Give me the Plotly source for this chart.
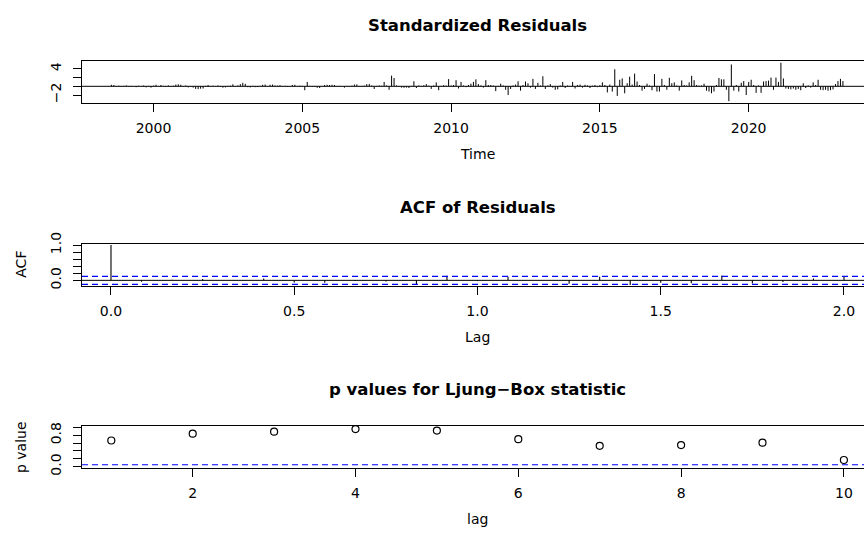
import plotly.graph_objects as go

W, H = 864, 537

# ---------------- data ----------------
resid_start_year = 1998
resid_start_month = 8          # August 1998
resid_frequency = 12

std_resid = [
    0.35, 0.30, -0.10, 0.15, -0.12, 0.10, 0.20, -0.15, 0.10, 0.05, -0.20, 0.12,
    -0.10, 0.18, -0.25, 0.10, -0.30, 0.15, 0.35, -0.05, 0.30, 0.10, -0.15, 0.20,
    -0.10, 0.15, 0.40, 0.45, 0.35, -0.10, 0.20, -0.25, -0.15, -0.30, -0.60, -0.65,
    -0.55, -0.50, 0.10, 0.30, -0.10, 0.15, -0.05, 0.20, -0.15, -0.30, -0.25, 0.10,
    0.15, 0.45, -0.10, 0.20, 0.50, 0.80, 0.55, -0.20, -0.25, 0.10, -0.20, -0.15,
    0.10, 0.35, 0.40, -0.10, 0.35, 0.40, 0.20, 0.15, 0.25, -0.10, 0.10, -0.15,
    0.05, 0.30, 0.35, -0.10, 0.15, 0.10, -0.90, 1.00, 0.10, -0.15, 0.10, -0.35,
    -0.40, 0.05, 0.30, 0.35, 0.30, 0.35, 0.30, -0.10, 0.10, 0.05, -0.30, 0.10,
    -0.10, 0.15, 0.40, 0.45, -0.10, 0.10, 0.15, 0.50, 0.55, 0.20, -0.60, 0.10,
    0.20, 0.15, 1.00, 0.20, -0.80, 2.45, 1.90, 0.20, -0.10, -0.30, -0.35, -0.30,
    -0.40, 0.10, 1.15, -0.40, 0.20, 0.10, 0.25, 0.50, 0.15, -0.60, 0.20, 0.90,
    -0.90, 0.10, 0.25, 0.15, 1.65, 0.20, 0.30, 1.40, -0.50, 1.00, 0.20, -0.20,
    0.30, 0.60, 1.00, 1.60, 0.50, 0.20, -0.30, 1.40, 0.30, 0.30, 0.20, -1.10,
    0.10, 0.60, 0.20, -0.80, -2.00, -0.60, 0.20, 0.40, 1.15, -1.00, 0.30, 1.10,
    0.70, -0.30, 1.70, -0.60, 0.80, 0.20, 2.30, -0.60, 0.20, 0.50, -0.30, -0.80,
    -0.70, 0.20, 1.00, -0.40, 0.20, 0.10, 1.00, -0.50, 0.30, 0.40, -0.30, 0.35,
    0.20, -0.40, 0.15, 0.30, -0.20, 0.25, 0.90, 0.30, -1.40, 0.40, -1.20, 3.90,
    -2.20, 1.50, 1.80, -1.60, 0.70, 2.20, 0.40, 2.90, 1.10, 0.30, -1.00, -0.60,
    0.60, 0.20, -0.90, 2.80, -1.20, -1.20, 1.70, 0.30, -0.80, 1.95, 0.70, 0.90,
    0.20, -1.00, 1.35, 0.30, 0.20, 0.90, 2.40, 1.40, 0.30, 0.15, 0.20, 0.60,
    -1.00, -1.20, -1.60, -1.20, 0.30, 1.90, 1.60, 1.60, -0.80, -3.40, 5.00, -1.00,
    0.30, -1.20, 0.80, 1.20, -2.00, 1.00, 1.50, 0.30, -1.50, 0.20, -1.50, 1.10,
    1.20, 1.30, 2.00, -0.80, 2.00, 1.00, 5.40, 1.80, -0.50, -0.60, -0.70, -0.50,
    -0.80, -0.60, -0.90, 0.70, -0.40, 0.20, -0.30, 0.90, 0.30, 1.50, -0.80, -0.90,
    -0.80, -1.00, -0.90, -0.70, 0.50, 1.20, 1.70, 1.20,
]

acf_lag_months = list(range(0, 25))
acf_values = [1.0, -0.04, 0.02, 0.035, 0.01, 0.055, -0.06, -0.07, -0.02, -0.035,
              -0.12, 0.13, -0.02, 0.10, 0.01, -0.10, 0.10, -0.13, -0.07, -0.08,
              0.14, -0.09, -0.05, 0.05, 0.12]
acf_ci = 0.114

lb_lags = [1, 2, 3, 4, 5, 6, 7, 8, 9, 10]
lb_pvalues = [0.666, 0.84, 0.89, 0.957, 0.92, 0.70, 0.53, 0.55, 0.61, 0.17]
lb_alpha = 0.05

resid_xticks = [2000, 2005, 2010, 2015, 2020]
resid_xticktext = ["2000", "2005", "2010", "2015", "2020"]
resid_yticks = [-2, 0, 2, 4]
resid_yticktext = ["\u22122", "", "", "4"]
acf_xticks = [0, 0.5, 1.0, 1.5, 2.0]
acf_xticktext = ["0.0", "0.5", "1.0", "1.5", "2.0"]
acf_yticks = [0, 0.2, 0.4, 0.6, 0.8, 1.0]
acf_yticktext = ["0.0", "", "", "", "", "1.0"]
lb_xticks = [2, 4, 6, 8, 10]
lb_xticktext = ["2", "4", "6", "8", "10"]
lb_yticks = [0, 0.2, 0.4, 0.6, 0.8, 1.0]
lb_yticktext = ["0.0", "", "", "", "0.8", ""]

titles = ["Standardized Residuals", "ACF of Residuals", "p values for Ljung\u2212Box statistic"]
xlabels = ["Time", "Lag", "lag"]
ylabels = ["", "ACF", "p value"]

# ---------------- derived x values ----------------
resid_time = [resid_start_year + (resid_start_month - 1 + i) / resid_frequency
              for i in range(len(std_resid))]
acf_lags = [m / 12 for m in acf_lag_months]


def spikes(xs, ys):
    sx, sy = [], []
    for x, y in zip(xs, ys):
        sx += [x, x, None]
        sy += [0, y, None]
    return sx, sy


FONT = "DejaVu Sans, Liberation Sans, Arial, sans-serif"
TICK_SIZE = 14
TITLE_SIZE = 16.5
LAB_SIZE = 14

# layout geometry (pixels)
LEFT = 82
RIGHT_R = 873          # right edge of the (cropped) R plot box
box_tops = [51, 240, 429]
box_bots = [94, 284, 473]


def ydom(r):
    return [1 - box_bots[r] / H, 1 - box_tops[r] / H]


fig = go.Figure()

rx, ry = spikes(resid_time, std_resid)
fig.add_trace(go.Scatter(x=rx, y=ry, mode="lines", line=dict(color="black", width=1),
                         xaxis="x", yaxis="y", hoverinfo="skip"))
ax, ay = spikes(acf_lags, acf_values)
fig.add_trace(go.Scatter(x=ax, y=ay, mode="lines", line=dict(color="black", width=1.1),
                         xaxis="x2", yaxis="y2", hoverinfo="skip"))
fig.add_trace(go.Scatter(x=lb_lags, y=lb_pvalues, mode="markers",
                         marker=dict(symbol="circle-open", size=7, color="black",
                                     line=dict(width=1.2, color="black")),
                         xaxis="x3", yaxis="y3"))

DASH = dict(color="blue", width=1.2, dash="6px,4px")
shapes = [
    dict(type="line", xref="x domain", x0=0, x1=1, yref="y", y0=0, y1=0,
         line=dict(color="black", width=1)),
    dict(type="line", xref="x2 domain", x0=0, x1=1, yref="y2", y0=0, y1=0,
         line=dict(color="black", width=1)),
    dict(type="line", xref="x2 domain", x0=0, x1=1, yref="y2", y0=acf_ci, y1=acf_ci, line=DASH),
    dict(type="line", xref="x2 domain", x0=0, x1=1, yref="y2", y0=-acf_ci, y1=-acf_ci, line=DASH),
    dict(type="line", xref="x3 domain", x0=0, x1=1, yref="y3", y0=lb_alpha, y1=lb_alpha, line=DASH),
]

tickfont = dict(family=FONT, size=TICK_SIZE, color="black")
common_x = dict(showline=True, mirror=True, linecolor="black", linewidth=1.3,
                ticks="outside", ticklen=8, tickwidth=1.2, tickcolor="black",
                showgrid=False, zeroline=False, tickfont=tickfont,
                domain=[LEFT / W, 1.0], tickmode="array", ticklabelstandoff=4)
common_y = dict(showline=True, mirror=False, linecolor="black", linewidth=1.3,
                ticks="outside", ticklen=8, tickwidth=1.2, tickcolor="black",
                showgrid=False, zeroline=False, tickfont=tickfont,
                tickangle=-90, tickmode="array", ticklabelstandoff=6)

annotations = []
cx = (LEFT + RIGHT_R) / 2 / W
for r in range(3):
    annotations.append(dict(text="<b>%s</b>" % titles[r], x=cx, y=1 - (box_tops[r] - 37.5) / H,
                            xref="paper", yref="paper", showarrow=False,
                            xanchor="center", yanchor="middle",
                            font=dict(family=FONT, size=TITLE_SIZE, color="black")))
    annotations.append(dict(text=xlabels[r], x=cx, y=1 - (box_bots[r] + 53) / H,
                            xref="paper", yref="paper", showarrow=False,
                            xanchor="center", yanchor="middle",
                            font=dict(family=FONT, size=LAB_SIZE, color="black")))
    if ylabels[r]:
        annotations.append(dict(text=ylabels[r], x=21 / W,
                                y=1 - (box_tops[r] + box_bots[r]) / 2 / H,
                                xref="paper", yref="paper", showarrow=False, textangle=-90,
                                xanchor="center", yanchor="middle",
                                font=dict(family=FONT, size=LAB_SIZE, color="black")))

fig.update_layout(
    width=W, height=H, margin=dict(l=0, r=0, t=0, b=0),
    paper_bgcolor="white", plot_bgcolor="white", showlegend=False,
    xaxis=dict(common_x, range=[1997.597, 2023.875], tickvals=resid_xticks,
               ticktext=resid_xticktext, anchor="y"),
    yaxis=dict(common_y, range=[-3.75, 5.75], tickvals=resid_yticks,
               ticktext=resid_yticktext, domain=ydom(0), anchor="x"),
    xaxis2=dict(common_x, range=[-0.0791, 2.0546], tickvals=acf_xticks,
                ticktext=acf_xticktext, anchor="y2"),
    yaxis2=dict(common_y, range=[-0.159, 1.045], tickvals=acf_yticks,
                ticktext=acf_yticktext, domain=ydom(1), anchor="x2"),
    xaxis3=dict(common_x, range=[0.64, 10.247], tickvals=lb_xticks,
                ticktext=lb_xticktext, anchor="y3"),
    yaxis3=dict(common_y, range=[-0.04, 1.04], tickvals=lb_yticks,
                ticktext=lb_yticktext, domain=ydom(2), anchor="x3"),
    shapes=shapes, annotations=annotations,
)

fig.write_html("out.html")
